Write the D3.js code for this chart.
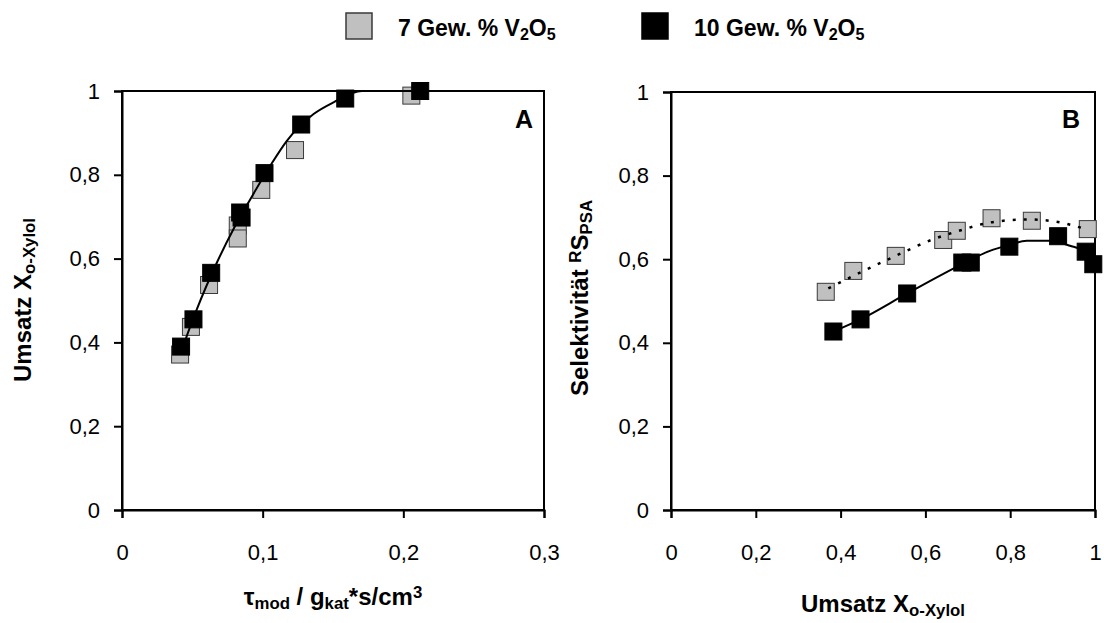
<!DOCTYPE html>
<html>
<head>
<meta charset="utf-8">
<script src="https://cdn.jsdelivr.net/npm/d3@7"></script>
<style>
  body { margin: 0; background: #fff; }
  svg { font-family: "Liberation Sans", Arial, sans-serif; }
</style>
</head>
<body>
<svg width="1104" height="623"></svg>
<script>
// Panel A: Umsatz über modifizierter Verweilzeit
const tauGray   = [0.0413, 0.049, 0.0619, 0.0823, 0.0823, 0.099, 0.123, 0.2057];
const convGray  = [0.371, 0.437, 0.537, 0.679, 0.648, 0.764, 0.859, 0.989];
const tauBlack  = [0.042, 0.0508, 0.0634, 0.084, 0.085, 0.1013, 0.1274, 0.1587, 0.212];
const convBlack = [0.39, 0.455, 0.566, 0.710, 0.698, 0.804, 0.920, 0.982, 1.0];
// Ausgleichskurve A
const fitTauA  = [0.042, 0.0448, 0.0531, 0.0674, 0.0792, 0.0899, 0.1053, 0.1172, 0.1362, 0.1504, 0.1706, 0.212];
const fitConvA = [0.375, 0.403, 0.478, 0.590, 0.670, 0.734, 0.821, 0.881, 0.945, 0.973, 1.0, 1.0];

// Panel B: Selektivität über Umsatz
const umsGray   = [0.365, 0.430, 0.530, 0.642, 0.674, 0.756, 0.851, 0.983];
const selGray   = [0.522, 0.572, 0.608, 0.646, 0.668, 0.698, 0.692, 0.672];
const umsBlack  = [0.383, 0.447, 0.557, 0.687, 0.707, 0.798, 0.913, 0.978, 0.996];
const selBlack  = [0.427, 0.456, 0.518, 0.592, 0.592, 0.630, 0.655, 0.618, 0.588];
const fitUmsGray  = [0.371, 0.434, 0.530, 0.619, 0.686, 0.748, 0.784, 0.843, 0.906, 0.972];
const fitSelGray  = [0.530, 0.562, 0.608, 0.648, 0.670, 0.687, 0.692, 0.695, 0.690, 0.674];
const fitUmsBlack = [0.383, 0.447, 0.557, 0.682, 0.752, 0.798, 0.839, 0.890, 0.941, 0.972, 0.996];
const fitSelBlack = [0.427, 0.456, 0.518, 0.586, 0.620, 0.634, 0.644, 0.644, 0.632, 0.620, 0.588];

const xTicksA = [0, 0.1, 0.2, 0.3];
const xTicksB = [0, 0.2, 0.4, 0.6, 0.8, 1];
const yTicks  = [0, 0.2, 0.4, 0.6, 0.8, 1];

const GRAY = "#c0c0c0";
const svg = d3.select("svg");
const fmt = d => d3.format("~g")(d).replace(".", ",");

const zip = (xs, ys) => xs.map((x, i) => [x, ys[i]]);

function drawFrame(scX, scY, xTicks) {
    const [x0, x1] = scX.range();
    const [y0, y1] = scY.range();

    // Rahmen oben/rechts
    svg.append("rect")
        .attr("x", x0).attr("y", y1)
        .attr("width", x1 - x0).attr("height", y0 - y1)
        .attr("fill", "none").attr("stroke", "#000").attr("stroke-width", 2);

    let gx = svg.append("g")
        .attr("transform", `translate(0, ${y0})`)
        .call(d3.axisBottom(scX).tickValues(xTicks).tickFormat(fmt)
              .tickSizeOuter(0).tickSize(8).tickPadding(26));
    let gy = svg.append("g")
        .attr("transform", `translate(${x0}, 0)`)
        .call(d3.axisLeft(scY).tickValues(yTicks).tickFormat(fmt)
              .tickSizeOuter(0).tickSize(8).tickPadding(14));

    [gx, gy].forEach(g => {
        g.select(".domain").attr("stroke-width", 2);
        g.selectAll(".tick line").attr("stroke-width", 2);
        g.selectAll("text").style("font-size", "22px").attr("fill", "#000")
            .style("font-family", "'Liberation Sans', Arial, sans-serif");
    });
}

function drawSquares(pts, scX, scY, fill) {
    const s = 17;
    svg.append("g").selectAll("rect")
        .data(pts)
        .enter()
        .append("rect")
        .attr("x", d => scX(d[0]) - s / 2)
        .attr("y", d => scY(d[1]) - s / 2)
        .attr("width", s).attr("height", s)
        .attr("fill", fill)
        .attr("stroke", fill == GRAY ? "#3a3a3a" : "#000")
        .attr("stroke-width", 1);
}

function drawLine(pts, scX, scY, dash) {
    let line = d3.line()
        .x(d => scX(d[0]))
        .y(d => scY(d[1]))
        .curve(d3.curveMonotoneX);
    svg.append("path")
        .attr("d", line(pts))
        .attr("fill", "none")
        .attr("stroke", "#000")
        .attr("stroke-width", dash ? 2.5 : 2)
        .attr("stroke-dasharray", dash ? "3,8" : null);
}

// ---------- Panel A ----------
let scXA = d3.scaleLinear().domain([0, 0.3]).range([122, 544]);
let scYA = d3.scaleLinear().domain([0, 1]).range([510, 91]);
drawFrame(scXA, scYA, xTicksA);
drawSquares(zip(tauGray, convGray), scXA, scYA, GRAY);
drawLine(zip(fitTauA, fitConvA), scXA, scYA, false);
drawSquares(zip(tauBlack, convBlack), scXA, scYA, "#000");

// ---------- Panel B ----------
let scXB = d3.scaleLinear().domain([0, 1]).range([671, 1095]);
let scYB = d3.scaleLinear().domain([0, 1]).range([510, 92]);
drawFrame(scXB, scYB, xTicksB);
drawSquares(zip(umsGray, selGray), scXB, scYB, GRAY);
drawLine(zip(fitUmsGray, fitSelGray), scXB, scYB, true);
drawLine(zip(fitUmsBlack, fitSelBlack), scXB, scYB, false);
drawSquares(zip(umsBlack, selBlack), scXB, scYB, "#000");

// Panel-Buchstaben
svg.append("text").attr("x", 533).attr("y", 128).attr("text-anchor", "end")
    .style("font-size", "25px").style("font-weight", "bold").text("A");
svg.append("text").attr("x", 1080).attr("y", 128).attr("text-anchor", "end")
    .style("font-size", "25px").style("font-weight", "bold").text("B");

// Achsentitel (mit Index)
function richText(sel, parts) {
    parts.forEach(p => {
        let t = sel.append("tspan").text(p[0]);
        if (p[1] == "sub") t.attr("baseline-shift", "-22%").style("font-size", "70%");
        if (p[1] == "sup") t.attr("baseline-shift", "40%").style("font-size", "70%");
    });
}

let tA = svg.append("text").attr("x", 333).attr("y", 605).attr("text-anchor", "middle")
    .style("font-size", "24px").style("font-weight", "bold");
richText(tA, [["τ"], ["mod", "sub"], [" / g"], ["kat", "sub"], ["*s/cm"], ["3", "sup"]]);

let tB = svg.append("text").attr("x", 883).attr("y", 612).attr("text-anchor", "middle")
    .style("font-size", "24px").style("font-weight", "bold");
richText(tB, [["Umsatz X"], ["o-Xylol", "sub"]]);

let yA = svg.append("text").attr("transform", "translate(31, 300) rotate(-90)")
    .attr("text-anchor", "middle").style("font-size", "24px").style("font-weight", "bold");
richText(yA, [["Umsatz X"], ["o-Xylol", "sub"]]);

let yB = svg.append("text").attr("transform", "translate(588, 298) rotate(-90)")
    .attr("text-anchor", "middle").style("font-size", "24px").style("font-weight", "bold");
richText(yB, [["Selektivität "], ["R", "sup"], ["S"], ["PSA", "sub"]]);

// Legende
const legend = [
    {label: "7 Gew. % V", fill: GRAY, x: 346},
    {label: "10 Gew. % V", fill: "#000", x: 642}
];
legend.forEach(l => {
    svg.append("rect").attr("x", l.x).attr("y", 13).attr("width", 26).attr("height", 26)
        .attr("fill", l.fill).attr("stroke", l.fill == GRAY ? "#3a3a3a" : "#000").attr("stroke-width", 1.5);
    let t = svg.append("text").attr("x", l.x + 52).attr("y", 36)
        .style("font-size", "23px").style("font-weight", "bold");
    richText(t, [[l.label], ["2", "sub"], ["O"], ["5", "sub"]]);
});
</script>
</body>
</html>
